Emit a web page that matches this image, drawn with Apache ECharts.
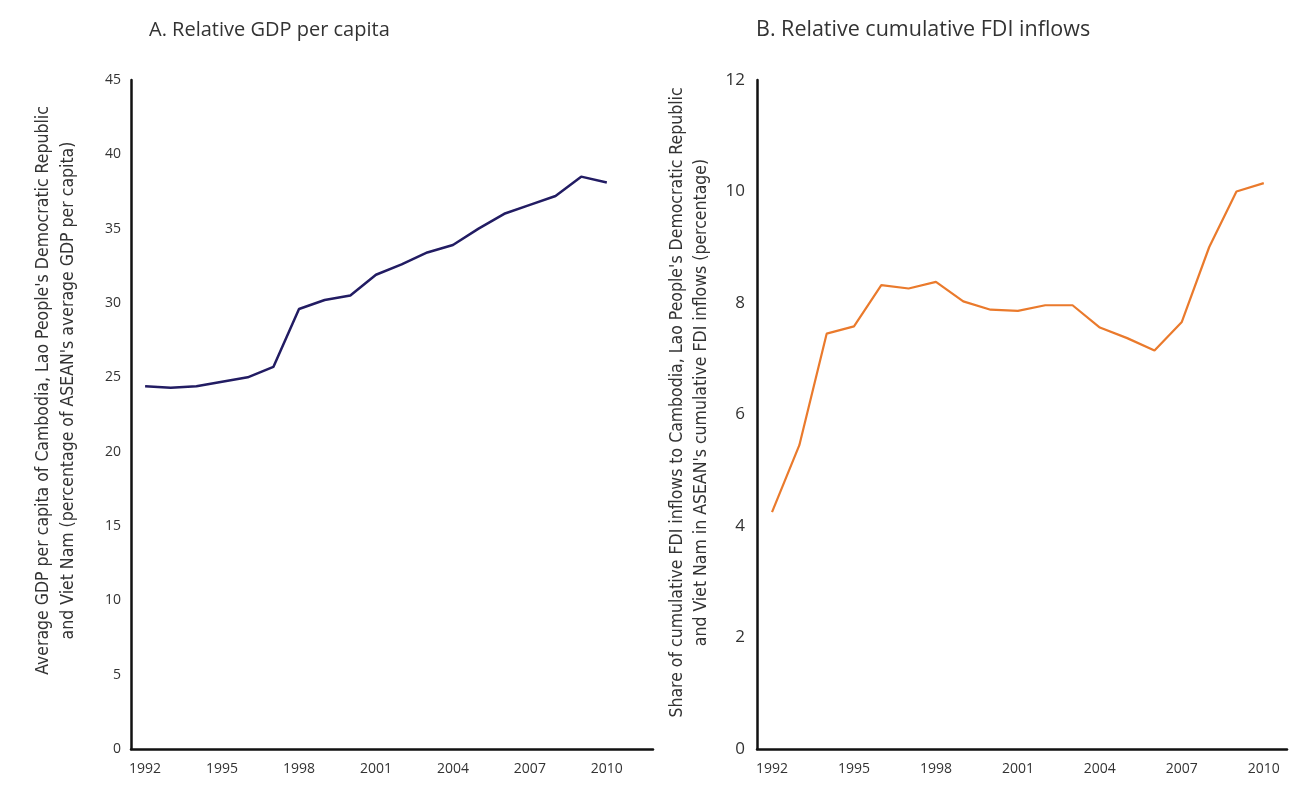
<!DOCTYPE html>
<html>
<head>
<meta charset="UTF-8">
<title>Relative GDP and FDI</title>
<style>
    html, body { margin: 0; padding: 0; background: #fff; }
    #chartArea { width: 1295px; height: 798px; }
</style>
</head>
<body>
<div id="chartArea"></div>
<script src="https://cdn.jsdelivr.net/npm/echarts@6/dist/echarts.min.js"></script>
<script>
// years on the x axis and the labels shown under it
var years = [1992, 1993, 1994, 1995, 1996, 1997, 1998, 1999, 2000, 2001,
             2002, 2003, 2004, 2005, 2006, 2007, 2008, 2009, 2010];
var yearLabels = [1992, 1995, 1998, 2001, 2004, 2007, 2010];

// A. relative GDP per capita (% of ASEAN average)
var gdpShare = [24.4, 24.3, 24.4, 24.7, 25.0, 25.7, 29.6, 30.2, 30.5, 31.9,
                32.6, 33.4, 33.9, 35.0, 36.0, 36.6, 37.2, 38.5, 38.1];

// B. relative cumulative FDI inflows (% of ASEAN cumulative)
var fdiShare = [4.25, 5.45, 7.45, 7.58, 8.32, 8.26, 8.38, 8.03, 7.88, 7.86,
                7.96, 7.96, 7.56, 7.37, 7.15, 7.66, 9.0, 10.0, 10.15];

var gdpTicks = [0, 5, 10, 15, 20, 25, 30, 35, 40, 45];
var fdiTicks = [0, 2, 4, 6, 8, 10, 12];

function pairs(xs, ys) {
    return xs.map(function (x, i) { return [x, ys[i]]; });
}

var font = '"Open Sans", sans-serif';
var nameFont = '"DejaVu Sans Condensed", "Open Sans", sans-serif';
var axisLine = { show: true, lineStyle: { color: '#111', width: 2.5 } };

var myChart = echarts.init(document.getElementById('chartArea'));
myChart.setOption({
    backgroundColor: '#fff',
    animation: false,
    title: [
        {
            text: 'A. Relative GDP per capita',
            left: 144, top: 15,
            textStyle: { fontFamily: font, fontWeight: 'normal', fontSize: 20, color: '#333' }
        },
        {
            text: 'B. Relative cumulative FDI inflows',
            left: 751, top: 14,
            textStyle: { fontFamily: font, fontWeight: 'normal', fontSize: 21.5, color: '#333' }
        }
    ],
    grid: [
        { left: 131, top: 80, width: 522, height: 669 },
        { left: 757, top: 80, width: 530, height: 669 }
    ],
    xAxis: [
        {
            gridIndex: 0, type: 'value', min: 1991.45, max: 2011.8,
            axisLine: axisLine, axisTick: { show: false }, splitLine: { show: false },
            axisLabel: {
                customValues: yearLabels, margin: 13, fontSize: 14, color: '#333', fontFamily: font,
                formatter: function (v) { return String(v); }
            }
        },
        {
            gridIndex: 1, type: 'value', min: 1991.45, max: 2010.85,
            axisLine: axisLine, axisTick: { show: false }, splitLine: { show: false },
            axisLabel: {
                customValues: yearLabels, margin: 13, fontSize: 14, color: '#333', fontFamily: font,
                formatter: function (v) { return String(v); }
            }
        }
    ],
    yAxis: [
        {
            gridIndex: 0, type: 'value', min: 0, max: 45, interval: 5,
            axisLine: axisLine, axisTick: { show: false }, splitLine: { show: false },
            axisLabel: { customValues: gdpTicks, margin: 10, fontSize: 14, color: '#333', fontFamily: font },
            name: "Average GDP per capita of Cambodia, Lao People's Democratic Republic\nand Viet Nam (percentage of ASEAN's average GDP per capita)",
            nameLocation: 'middle', nameGap: 50,
            nameTextStyle: { fontFamily: nameFont, fontSize: 17.5, lineHeight: 25, color: '#333', padding: [0, 0, 0, 48] }
        },
        {
            gridIndex: 1, type: 'value', min: 0, max: 12, interval: 2,
            axisLine: axisLine, axisTick: { show: false }, splitLine: { show: false },
            axisLabel: { customValues: fdiTicks, margin: 12, fontSize: 17, color: '#333', fontFamily: font },
            name: "Share of cumulative FDI inflows to Cambodia, Lao People's Democratic Republic\nand Viet Nam in ASEAN's cumulative FDI inflows (percentage)",
            nameLocation: 'middle', nameGap: 44,
            nameTextStyle: { fontFamily: nameFont, fontSize: 17.5, lineHeight: 24, color: '#333', padding: [0, 0, 0, 24] }
        }
    ],
    series: [
        {
            name: 'GDP', type: 'line', xAxisIndex: 0, yAxisIndex: 0,
            data: pairs(years, gdpShare), showSymbol: false,
            lineStyle: { color: '#221c63', width: 2.5 }
        },
        {
            name: 'FDI', type: 'line', xAxisIndex: 1, yAxisIndex: 1,
            data: pairs(years, fdiShare), showSymbol: false,
            lineStyle: { color: '#ea7a2c', width: 2.2 }
        }
    ]
});
</script>
</body>
</html>
